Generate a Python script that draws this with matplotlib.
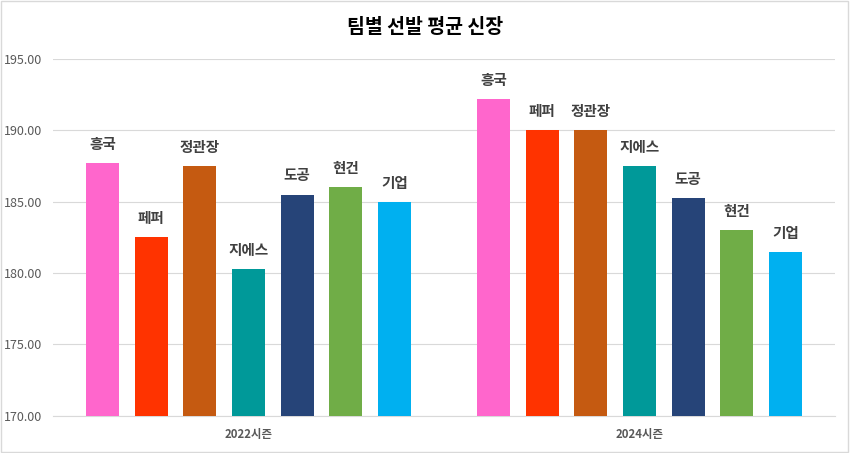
import numpy as np
import matplotlib
matplotlib.use('Agg')
import matplotlib.pyplot as plt

plt.rcParams['font.family'] = ['Noto Sans CJK KR', 'DejaVu Sans']

seasons = ['2022시즌', '2024시즌']
teams = ['흥국', '페퍼', '정관장', '지에스', '도공', '현건', '기업']
heights = {
    '흥국': [187.7, 192.2],
    '페퍼': [182.5, 190.0],
    '정관장': [187.5, 190.0],
    '지에스': [180.25, 187.5],
    '도공': [185.5, 185.25],
    '현건': [186.0, 183.0],
    '기업': [185.0, 181.5],
}
colors = ['#FF66CC', '#FF3300', '#C55A11', '#009999', '#264478', '#70AD47', '#00B0F0']

fig = plt.figure(figsize=(8.5, 4.53), dpi=100)
ax = fig.add_axes([53 / 850, 37.3 / 453, 782 / 850, 356.7 / 453])

x = np.arange(len(seasons))
step = 0.1245
w = 0.0844
for i, t in enumerate(teams):
    pos = x + (i - 3) * step
    bars = ax.bar(pos, heights[t], width=w, color=colors[i], zorder=3)
    for b in bars:
        ax.annotate(t, (b.get_x() + b.get_width() / 2, b.get_height()),
                    xytext=(0, 8), textcoords='offset points', ha='center', va='bottom',
                    fontsize=10.5, fontweight='bold', color='#404040')

ax.set_ylim(170, 195)
ax.set_xlim(-0.5, 1.5)
ax.set_yticks(np.arange(170, 196, 5))
ax.set_yticklabels([f'{v:.2f}' for v in np.arange(170, 196, 5)], fontsize=9, color='#595959')
ax.set_xticks(x)
ax.set_xticklabels(seasons, fontsize=8.2, fontweight='bold', color='#595959')
ax.tick_params(axis='y', length=0, pad=8)
ax.tick_params(axis='x', length=0, pad=9)
ax.grid(axis='y', color='#D9D9D9', linewidth=0.8, zorder=0)
for s in ['top', 'right', 'left']:
    ax.spines[s].set_visible(False)
ax.spines['bottom'].set_color('#D9D9D9')

fig.text(0.5, 0.94, '팀별 선발 평균 신장', ha='center', va='center', fontsize=14,
         fontweight='bold', color='black')

fig.patches.append(plt.Rectangle((0.001, 0.002), 0.997, 0.995, transform=fig.transFigure,
                                 fill=False, edgecolor='#D9D9D9', linewidth=1))

fig.savefig('out.png', dpi=100)
